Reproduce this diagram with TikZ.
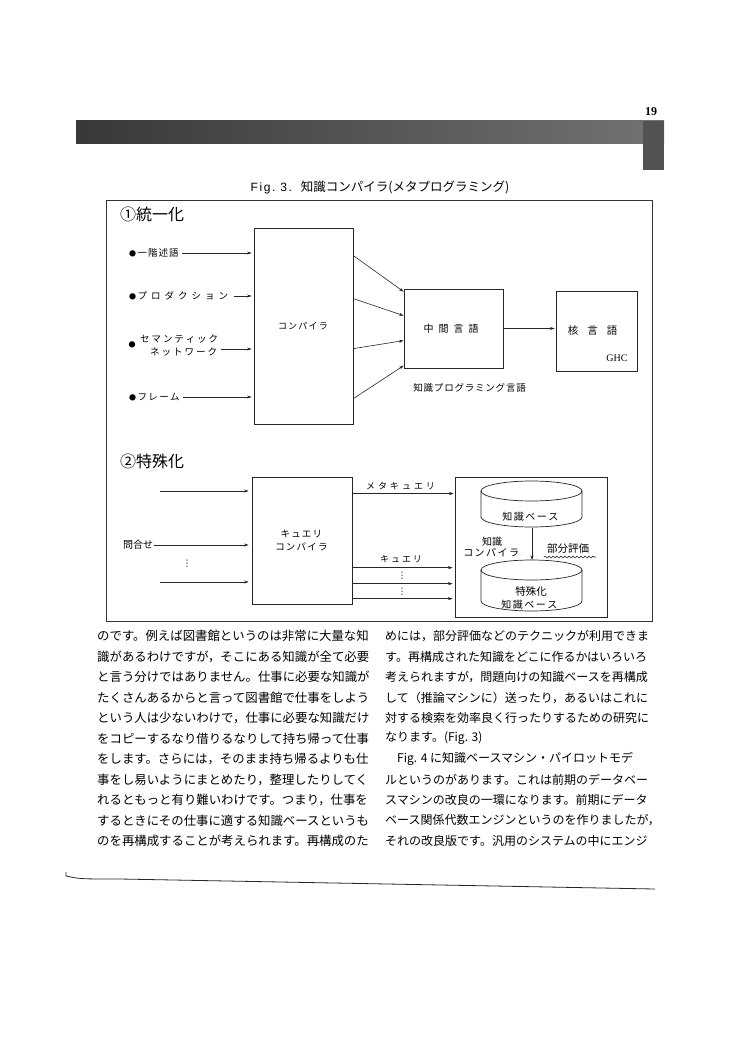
\documentclass[tikz,border=0pt]{standalone}
\usepackage{fontspec}
\setmainfont{Liberation Serif}
\newfontfamily\jp{Noto Sans CJK JP}
\newfontfamily\lsans{Liberation Sans}
\newfontfamily\dv{DejaVu Sans}
\usetikzlibrary{arrows.meta,decorations.pathmorphing}
\makeatletter
\newcommand\lsp[2]{\def\lsp@gap{#1}\lsp@loop#2\@nil}
\def\lsp@loop#1{\ifx#1\@nil\hspace{-\lsp@gap}\else#1\hspace{\lsp@gap}\expandafter\lsp@loop\fi}
\makeatother
\newcommand\fs[1]{\fontsize{#1}{#1}\selectfont}
\newcommand\bul{{\fs{7}●}\hspace{1.5pt}}
\tikzset{
  box/.style={draw=black!85, line width=0.75pt, inner sep=0pt},
  lbl/.style={inner sep=0pt, font=\jp\fs{9.5}},
  arr/.style={draw=black!85, line width=0.6pt, -{Stealth[length=4.5pt,width=3pt]}},
  body/.style={inner sep=0pt, anchor=west, font=\jp\fs{12.4}},
  bodyr/.style={inner sep=0pt, anchor=west, font=\jp\fs{12}},
  head/.style={inner sep=0pt, anchor=west, font=\jp\fs{16}},
  vdots/.style={inner sep=0pt, font=\dv\fs{9}},
}
\begin{document}
\begin{tikzpicture}[x=1pt,y=-1pt]
\useasboundingbox (0,0) rectangle (750,1054);
\fill[white] (0,0) rectangle (750,1054);

% page header
\node[inner sep=0pt, font=\bfseries\fs{12}] (pnum) at (651,112) {19};
\shade[left color=black!78, right color=black!55] (76,121) rectangle (664,143);
\fill[black!68] (643,121) rectangle (664,170);

% caption
\node[inner sep=0pt] (cap) at (380,187) {{\lsans\fs{12}\lsp{1.6pt}{Fig.}\hspace{5pt}\lsp{1.6pt}{3.}}\hspace{9pt}{\jp\fs{12.5}知識コンパイラ(メタプログラミング)}};

% outer frame
\draw[draw=black!80, line width=0.8pt] (106,200) rectangle (652,621);

% ---- section 1
\node[head] (s1) at (120,214) {①統一化};
\node[box, minimum width=99pt, minimum height=196pt, font=\jp\fs{9}] (comp) at (303.5,326) {\lsp{1.2pt}{コンパイラ}};
\node[box, minimum width=99pt, minimum height=79pt, font=\jp\fs{10}] (mid) at (453.5,328.5) {\lsp{5pt}{中間言語}};
\node[box, minimum width=81pt, minimum height=80pt] (core) at (596.5,331) {};
\node[lbl, font=\jp\fs{10.5}] (corelbl) at (597,331) {\lsp{9pt}{核言語}};
\node[inner sep=0pt, font=\fs{10}] (ghc) at (617,358) {GHC};
\node[lbl] (kpl) at (470,388) {\lsp{0.8pt}{知識プログラミング言語}};

\node[lbl, anchor=west] (in1) at (129,253) {\bul\lsp{1pt}{一階述語}};
\node[lbl, anchor=west] (in2) at (129,296) {\bul\lsp{4pt}{プロダクション}};
\node[lbl, font=\fs{7}] (b3) at (132,345) {\jp●};
\node[lbl, anchor=west] (in3a) at (140,339) {\lsp{1.9pt}{セマンティック}};
\node[lbl, anchor=west] (in3b) at (150,352) {\lsp{2pt}{ネットワーク}};
\node[lbl, anchor=west] (in4) at (129,397) {\bul\lsp{1.3pt}{フレーム}};
\coordinate (in3e) at ([yshift=3pt]in3b.east);

\draw[arr, shorten <=2pt, shorten >=2pt] (in1.east) -- (comp.west |- in1.east);
\draw[arr, shorten <=2pt, shorten >=2pt] (in2.east) -- (comp.west |- in2.east);
\draw[arr, shorten <=2pt, shorten >=2pt] (in3e) -- (comp.west |- in3e);
\draw[arr, shorten <=2pt, shorten >=2pt] (in4.east) -- (comp.west |- in4.east);

\draw[arr] ([yshift=-28pt]comp.north east) -- ([yshift=-3pt]mid.north west);
\draw[arr] ([yshift=-71pt]comp.north east) -- ([yshift=-27pt]mid.north west);
\draw[arr] ([yshift=-121pt]comp.north east) -- ([yshift=-52pt]mid.north west);
\draw[arr] ([yshift=-171pt]comp.north east) -- ([yshift=-77pt]mid.north west);
\draw[arr, shorten >=1pt] (mid.east) -- (core.west |- mid.east);

% ---- section 2
\node[head] (s2) at (120,461) {②特殊化};
\node[box, minimum width=100pt, minimum height=127pt, font=\jp\fs{9.5}, align=center] (qc) at (302,540.5) {\lsp{1.2pt}{キュエリ}\\[3pt]\lsp{1.2pt}{コンパイラ}};
\node[box, minimum width=152pt, minimum height=140pt] (kb) at (531,547) {};

\coordinate (q1) at (160,491);
\coordinate (q3) at (160,582);
\node[lbl, anchor=west, font=\jp\fs{10}] (ask) at (123,545) {問合せ};
\node[vdots] (vd1) at (187,564) {⋮};
\draw[arr, shorten >=3pt] (q1) -- (qc.west |- q1);
\draw[arr, shorten <=1pt, shorten >=3pt] (ask.east) -- (qc.west |- ask.east);
\draw[arr, shorten >=3pt] (q3) -- (qc.west |- q3);

\node[lbl, font=\jp\fs{9}] (metaq) at (402,486) {\lsp{3pt}{メタキュエリ}};
\node[lbl, font=\jp\fs{9}] (query) at (402,559) {\lsp{2pt}{キュエリ}};
\draw[arr, shorten >=1pt] ([yshift=-17pt]qc.north east) -- ([yshift=-17pt]kb.north west);
\draw[arr, shorten >=2pt] ([yshift=-91pt]qc.north east) -- ([yshift=-91pt]kb.north west);
\draw[arr, shorten >=2pt] ([yshift=-107pt]qc.north east) -- ([yshift=-107pt]kb.north west);
\draw[arr, shorten >=2pt] ([yshift=-122pt]qc.north east) -- ([yshift=-122pt]kb.north west);
\node[vdots] (vd2) at (402,576) {⋮};
\node[vdots] (vd3) at (402,592) {⋮};

% cylinders
\draw[black!85, line width=0.7pt] (531.5,491) ellipse [x radius=50.5pt, y radius=10pt];
\draw[black!85, line width=0.7pt] (481,491) -- (481,517) arc[start angle=180, end angle=360, x radius=50.5pt, y radius=10pt] -- (582,491);
\draw[black!85, line width=0.7pt] (531.5,570) ellipse [x radius=50.5pt, y radius=10pt];
\draw[black!85, line width=0.7pt] (481,570) -- (481,601) arc[start angle=180, end angle=360, x radius=50.5pt, y radius=10pt] -- (582,570);
\node[lbl, font=\jp\fs{10}] (kbtxt) at (531,517) {\lsp{1.5pt}{知識ベース}};
\node[lbl, font=\jp\fs{10.5}] (skb1) at (531,592) {特殊化};
\node[lbl, font=\jp\fs{10}] (skb2) at (530,605) {\lsp{1.5pt}{知識ベース}};
\coordinate (kbbot) at (532,528);
\coordinate (skbtop) at (532,560);
\draw[arr] (kbbot) -- (skbtop);
\node[lbl, font=\jp\fs{10}, align=center] (kcomp) at (492,547) {知識\\[1pt]\lsp{1.5pt}{コンパイラ}};
\node[lbl, font=\jp\fs{10.5}] (bubun) at (568,549) {部分評価};
\draw[black!85, line width=0.6pt, decorate, decoration={snake, amplitude=0.9pt, segment length=4pt}] ([xshift=-3pt,yshift=-3pt]bubun.south west) -- ([xshift=7pt,yshift=-3pt]bubun.south east);

% ---- body text
\foreach \t [count=\i] in {%
のです。例えば図書館というのは非常に大量な知,
識があるわけですが，そこにある知識が全て必要,
と言う分けではありません。仕事に必要な知識が,
たくさんあるからと言って図書館で仕事をしよう,
という人は少ないわけで，仕事に必要な知識だけ,
をコピーするなり借りるなりして持ち帰って仕事,
をします。さらには，そのまま持ち帰るよりも仕,
事をし易いようにまとめたり，整理したりしてく,
れるともっと有り難いわけです。つまり，仕事を,
するときにその仕事に適する知識ベースというも,
のを再構成することが考えられます。再構成のた}
  \node[body] (L\i) at (97,{636+20.5*(\i-1)}) {\t};

\foreach \t [count=\i] in {%
めには，部分評価などのテクニックが利用できま,
す。再構成された知識をどこに作るかはいろいろ,
考えられますが，問題向けの知識ベースを再構成,
して（推論マシンに）送ったり，あるいはこれに,
対する検索を効率良く行ったりするための研究に,
なります。(Fig. 3),
　Fig. 4 に知識ベースマシン・パイロットモデ,
ルというのがあります。これは前期のデータベー,
スマシンの改良の一環になります。前期にデータ,
ベース関係代数エンジンというのを作りましたが，,
それの改良版です。汎用のシステムの中にエンジ}
  \node[bodyr] (R\i) at (385,{636+20.5*(\i-1)}) {\t};

% bottom rule
\draw[black!85, line width=0.8pt] (66,872) -- (66,876) .. controls (80,879) .. (120,879) -- (655,889);
\end{tikzpicture}
\end{document}
